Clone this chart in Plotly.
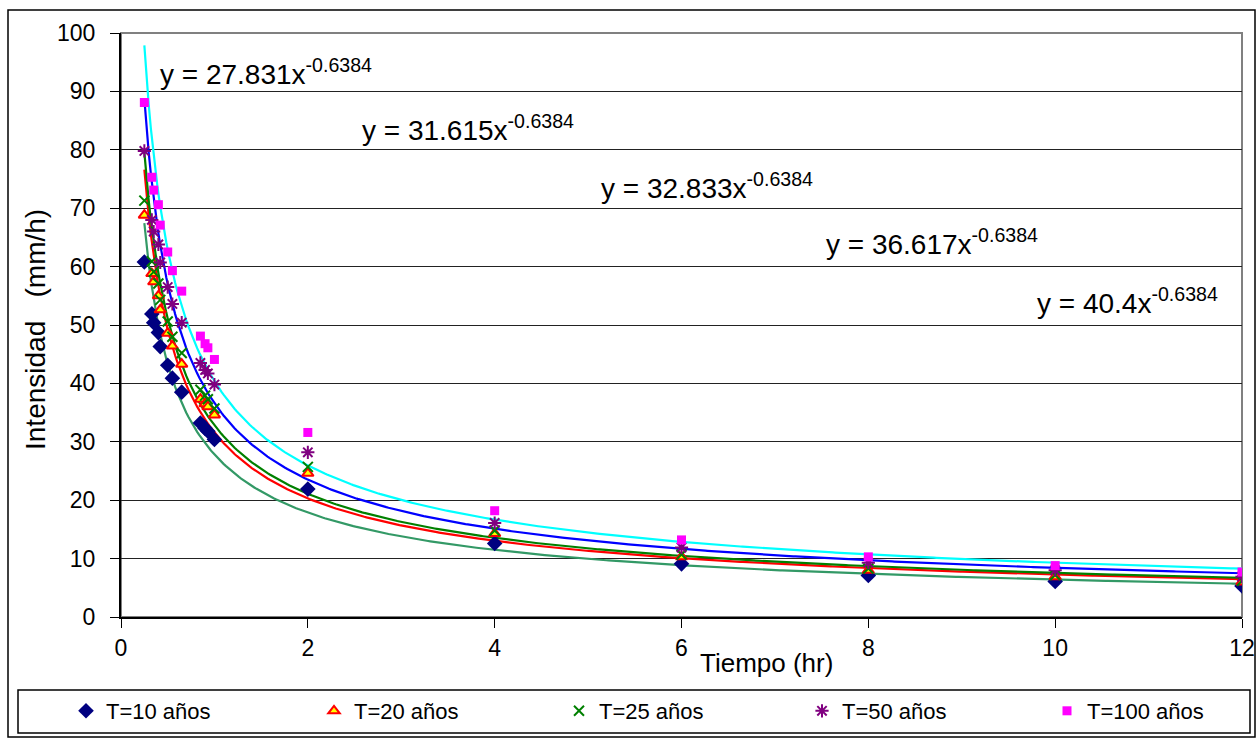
import numpy as np
import plotly.graph_objects as go

# ---------------- data ----------------
durations = [0.25, 0.33, 0.35, 0.40, 0.42, 0.50, 0.55, 0.65, 0.85, 0.90, 0.93, 1.0, 2, 4, 6, 8, 10, 12]

t10 = [60.8, 51.9, 50.4, 48.7, 46.3, 43.1, 40.9, 38.5, 33.2, 32.3, 31.8, 30.4, 21.9, 12.6, 9.1, 7.1, 6.1, 5.3]
t20 = [68.8, 58.8, 57.4, 55.0, 52.6, 48.6, 46.4, 43.3, 37.3, 36.5, 36.0, 34.6, 24.6, 14.3, 10.3, 8.0, 6.9, 6.0]
t25 = [71.3, 60.9, 59.1, 57.1, 54.3, 50.6, 48.0, 45.2, 38.9, 37.9, 37.3, 35.7, 25.7, 14.8, 10.7, 8.3, 7.2, 6.2]
t50 = [79.8, 68.0, 66.0, 63.8, 60.7, 56.5, 53.6, 50.4, 43.5, 42.3, 41.7, 39.8, 28.2, 16.1, 11.9, 9.3, 8.0, 6.9]
t100 = [88.1, 75.3, 73.1, 70.6, 67.1, 62.5, 59.3, 55.8, 48.1, 46.8, 46.1, 44.1, 31.6, 18.2, 13.2, 10.3, 8.8, 7.7]

series_names = ["T=10 años", "T=20 años", "T=25 años", "T=50 años", "T=100 años"]
series_values = [t10, t20, t25, t50, t100]

# power trendlines shown on the chart: y = a * x^b
trend_coef = [27.831, 31.615, 32.833, 36.617, 40.4]
trend_exp = -0.6384
trend_labels = ["y = 27.831x", "y = 31.615x", "y = 32.833x", "y = 36.617x", "y = 40.4x"]

x_ticks = [0, 2, 4, 6, 8, 10, 12]
y_ticks = [0, 10, 20, 30, 40, 50, 60, 70, 80, 90, 100]

# ---------------- layout geometry (pixels) ----------------
W, H = 1257, 740
PL, PR, PT, PB = 121, 1242, 33, 617


def px(x):
    return (x - PL) / (PR - PL)


def py(y):
    return (PB - y) / (PB - PT)


FONT = "Liberation Sans, Arial, sans-serif"

marker_styles = [
    dict(symbol="diamond", size=12, color="#000080", line=dict(width=0)),
    dict(symbol="triangle-up", size=10, color="#FFFF00", line=dict(width=2, color="#FF0000")),
    dict(symbol="x-thin-open", size=10, color="#008000", line=dict(width=2, color="#008000")),
    dict(symbol="asterisk-open", size=11, color="#800080", line=dict(width=2, color="#800080")),
    dict(symbol="square", size=9, color="#FF00FF", line=dict(width=0)),
]
trend_colors = ["#339966", "#FF0000", "#008000", "#0000FF", "#00FFFF"]
legend_ids = ["legend", "legend2", "legend3", "legend4", "legend5"]
legend_marker_px = [85, 333, 578, 821, 1066]

fig = go.Figure()

xs = np.linspace(0.25, 12, 500)
for coef, col in zip(trend_coef, trend_colors):
    fig.add_trace(go.Scatter(x=xs, y=coef * xs ** trend_exp, mode="lines",
                             line=dict(color=col, width=2.2), showlegend=False,
                             hoverinfo="skip"))

for name, vals, ms, lid in zip(series_names, series_values, marker_styles, legend_ids):
    fig.add_trace(go.Scatter(x=durations, y=vals, mode="markers", name=name,
                             marker=ms, legend=lid, showlegend=True))

shapes = [
    # outer chart border
    dict(type="rect", xref="paper", yref="paper", x0=px(8), x1=px(1255), y0=py(737), y1=py(10),
         line=dict(color="black", width=1.5), layer="below"),
    # plot-area border
    dict(type="rect", xref="paper", yref="paper", x0=0, x1=1, y0=0, y1=1,
         line=dict(color="#808080", width=2), layer="below"),
    # legend box
    dict(type="rect", xref="paper", yref="paper", x0=px(18), x1=px(1250), y0=py(733), y1=py(690),
         line=dict(color="black", width=1.5)),
]

annotations = []
eq_pos = [(158, 72), (360, 128), (599, 186), (824, 242), (1035, 301)]
for lab, (ex, ey) in zip(trend_labels, eq_pos):
    annotations.append(dict(xref="paper", yref="paper", x=px(ex), y=py(ey),
                            xanchor="left", yanchor="middle", showarrow=False,
                            text=lab + "<sup>%s</sup>" % trend_exp,
                            font=dict(family=FONT, size=28, color="black")))

annotations.append(dict(xref="paper", yref="paper", x=px(766), y=py(663), xanchor="center",
                        yanchor="middle", showarrow=False, text="Tiempo (hr)",
                        font=dict(family=FONT, size=26, color="black")))
annotations.append(dict(xref="paper", yref="paper", x=px(35), y=py(330), xanchor="center",
                        yanchor="middle", showarrow=False, text="Intensidad   (mm/h)",
                        textangle=-90, font=dict(family=FONT, size=28, color="black")))

legends = {}
for lid, mx in zip(legend_ids, legend_marker_px):
    legends[lid] = dict(orientation="h", xref="container", yref="container",
                        x=(mx - 19) / W, y=1 - 711 / H, xanchor="left", yanchor="middle",
                        font=dict(family=FONT, size=22, color="black"),
                        bgcolor="rgba(0,0,0,0)", borderwidth=0)

fig.update_layout(
    width=W, height=H,
    margin=dict(l=PL, r=W - PR, t=PT, b=H - PB, autoexpand=False),
    paper_bgcolor="white", plot_bgcolor="white",
    font=dict(family=FONT, color="black"),
    shapes=shapes, annotations=annotations,
    xaxis=dict(range=[0, 12], tickvals=x_ticks, ticks="outside", ticklen=9, tickcolor="black",
               showline=True, linecolor="black", linewidth=2, showgrid=False, zeroline=False,
               tickfont=dict(size=23, family=FONT)),
    yaxis=dict(range=[0, 100], tickvals=y_ticks, ticks="outside", ticklen=9, tickcolor="black",
               showline=True, linecolor="black", linewidth=2, showgrid=True,
               gridcolor="#222222", gridwidth=1, zeroline=False,
               ticklabelstandoff=10,
               tickfont=dict(size=23, family=FONT)),
    **legends,
)

fig.write_html("out.html")
